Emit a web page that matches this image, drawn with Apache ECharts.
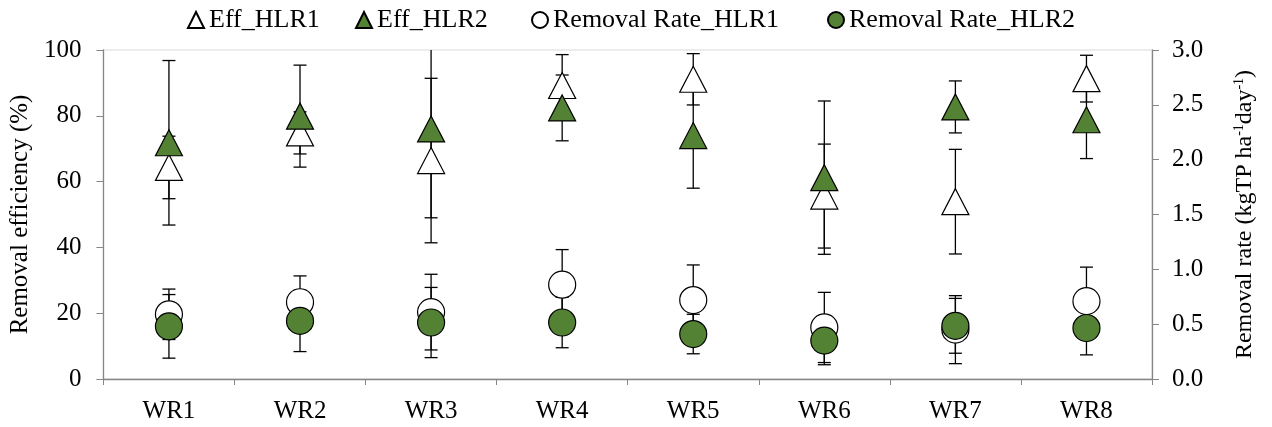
<!DOCTYPE html>
<html>
<head>
<meta charset="utf-8">
<script src="https://cdn.jsdelivr.net/npm/echarts@6/dist/echarts.min.js"></script>
<style>
html,body{margin:0;padding:0;background:#fff;}
#chart{width:1272px;height:427px;}
</style>
</head>
<body>
<div id="chart"></div>
<script>
const categories = ['WR1','WR2','WR3','WR4','WR5','WR6','WR7','WR8'];
const effHLR1 = [64.3, 74.8, 66.4, 89.2, 91.1, 55.6, 53.9, 91.3];
const effHLR1Err = [9.5, 6.4, 25.0, 9.4, 7.8, 15.8, 15.9, 7.1];
const effHLR2 = [71.8, 79.9, 76.0, 82.4, 74.0, 61.2, 82.7, 78.8];
const effHLR2Err = [25.0, 15.5, 27.0, 10.0, 16.0, 23.3, 7.9, 11.8];
const rateHLR1 = [0.59, 0.70, 0.61, 0.86, 0.72, 0.47, 0.45, 0.71];
const rateHLR1Err = [0.23, 0.24, 0.345, 0.32, 0.32, 0.32, 0.31, 0.31];
const rateHLR2 = [0.48, 0.53, 0.515, 0.515, 0.41, 0.35, 0.485, 0.465];
const rateHLR2Err = [0.29, 0.28, 0.32, 0.23, 0.18, 0.22, 0.25, 0.245];
const seriesNames = ['Eff_HLR1', 'Eff_HLR2', 'Removal Rate_HLR1', 'Removal Rate_HLR2'];
const leftTicks = {min: 0, max: 100, interval: 20};
const rightTicks = {min: 0, max: 3, interval: 0.5};

const FONT = '"Liberation Serif", "Times New Roman", serif';
const FS = 25;
const GREEN = '#548235';
const AXIS = '#868686';

function errData(vals, errs) {
  return vals.map((v, i) => [i, v - errs[i], v + errs[i]]);
}
function errSeries(vals, errs, yAxisIndex, axisMax, axisMin) {
  return {
    type: 'custom',
    yAxisIndex: yAxisIndex,
    z: 1,
    silent: true,
    legendHoverLink: false,
    data: errData(vals, errs),
    encode: {x: 0, y: [1, 2]},
    renderItem: function (params, api) {
      const idx = api.value(0);
      const lo = api.value(1), hi = api.value(2);
      const loC = Math.max(lo, axisMin), hiC = Math.min(hi, axisMax);
      const pLo = api.coord([idx, loC]);
      const pHi = api.coord([idx, hiC]);
      const half = 6.5;
      const st = {stroke: '#000', lineWidth: 1.3, fill: null};
      const children = [
        {type: 'line', shape: {x1: pLo[0], y1: pLo[1], x2: pHi[0], y2: pHi[1]}, style: st}
      ];
      if (hi <= axisMax) children.push({type: 'line', shape: {x1: pHi[0]-half, y1: pHi[1], x2: pHi[0]+half, y2: pHi[1]}, style: st});
      if (lo >= axisMin) children.push({type: 'line', shape: {x1: pLo[0]-half, y1: pLo[1], x2: pLo[0]+half, y2: pLo[1]}, style: st});
      return {type: 'group', children: children};
    }
  };
}

const legendLefts = [187, 355, 531, 827];
const legends = seriesNames.map((n, i) => ({
  top: 7,
  left: legendLefts[i],
  padding: 0,
  itemWidth: 16,
  itemHeight: 16,
  textStyle: {fontFamily: FONT, fontSize: 26, color: '#000'},
  data: [n]
}));

const chart = echarts.init(document.getElementById('chart'), null, {renderer: 'canvas'});
const option = {
  animation: false,
  backgroundColor: '#fff',
  textStyle: {fontFamily: FONT, color: '#000'},
  grid: {left: 99, right: 120, top: 50, bottom: 48, show: true, borderColor: '#d9d9d9', borderWidth: 1},
  legend: legends,
  xAxis: {
    type: 'category',
    data: categories,
    boundaryGap: true,
    axisLine: {lineStyle: {color: AXIS, width: 1.3}},
    axisTick: {show: true, length: 6, lineStyle: {color: AXIS}},
    axisLabel: {fontFamily: FONT, fontSize: FS, color: '#000', margin: 20},
    splitLine: {show: false}
  },
  yAxis: [
    {
      type: 'value',
      min: leftTicks.min, max: leftTicks.max, interval: leftTicks.interval,
      name: 'Removal efficiency (%)',
      nameLocation: 'middle',
      nameRotate: 90,
      nameGap: 56,
      nameTextStyle: {fontFamily: FONT, fontSize: FS, color: '#000'},
      axisLine: {show: true, lineStyle: {color: AXIS, width: 1.3}},
      axisTick: {show: true, length: 7, lineStyle: {color: AXIS}},
      axisLabel: {fontFamily: FONT, fontSize: FS, color: '#000', margin: 22},
      splitLine: {show: false}
    },
    {
      type: 'value',
      position: 'right',
      min: rightTicks.min, max: rightTicks.max, interval: rightTicks.interval,
      name: '{t|Removal rate (kgTP ha}{s|-1}{t|day}{s|-1}{t|)}',
      nameLocation: 'middle',
      nameRotate: 90,
      nameGap: 80,
      nameTextStyle: {
        fontFamily: FONT, fontSize: FS, color: '#000',
        rich: {
          t: {fontFamily: FONT, fontSize: 24, color: '#000'},
          s: {fontFamily: FONT, fontSize: 14, color: '#000', padding: [0, 0, 12, 0]}
        }
      },
      axisLine: {show: true, lineStyle: {color: AXIS, width: 1.3}},
      axisTick: {show: true, length: 7, lineStyle: {color: AXIS}},
      axisLabel: {fontFamily: FONT, fontSize: FS, color: '#000', margin: 20, formatter: v => v.toFixed(1)},
      splitLine: {show: false}
    }
  ],
  series: [
    errSeries(effHLR1, effHLR1Err, 0, leftTicks.max, leftTicks.min),
    errSeries(effHLR2, effHLR2Err, 0, leftTicks.max, leftTicks.min),
    errSeries(rateHLR1, rateHLR1Err, 1, rightTicks.max, rightTicks.min),
    errSeries(rateHLR2, rateHLR2Err, 1, rightTicks.max, rightTicks.min),
    {
      name: seriesNames[0], type: 'scatter', yAxisIndex: 0, z: 2,
      symbol: 'triangle', symbolSize: [27, 26],
      itemStyle: {color: '#fff', borderColor: '#000', borderWidth: 1.2, opacity: 1},
      data: effHLR1
    },
    {
      name: seriesNames[1], type: 'scatter', yAxisIndex: 0, z: 3,
      symbol: 'triangle', symbolSize: [27, 26],
      itemStyle: {color: GREEN, borderColor: '#000', borderWidth: 1.2, opacity: 1},
      data: effHLR2
    },
    {
      name: seriesNames[2], type: 'scatter', yAxisIndex: 1, z: 2,
      symbol: 'circle', symbolSize: 27,
      itemStyle: {color: '#fff', borderColor: '#000', borderWidth: 1.2, opacity: 1},
      data: rateHLR1
    },
    {
      name: seriesNames[3], type: 'scatter', yAxisIndex: 1, z: 3,
      symbol: 'circle', symbolSize: 27,
      itemStyle: {color: GREEN, borderColor: '#000', borderWidth: 1.2, opacity: 1},
      data: rateHLR2
    }
  ]
};
chart.setOption(option);
</script>
</body>
</html>
